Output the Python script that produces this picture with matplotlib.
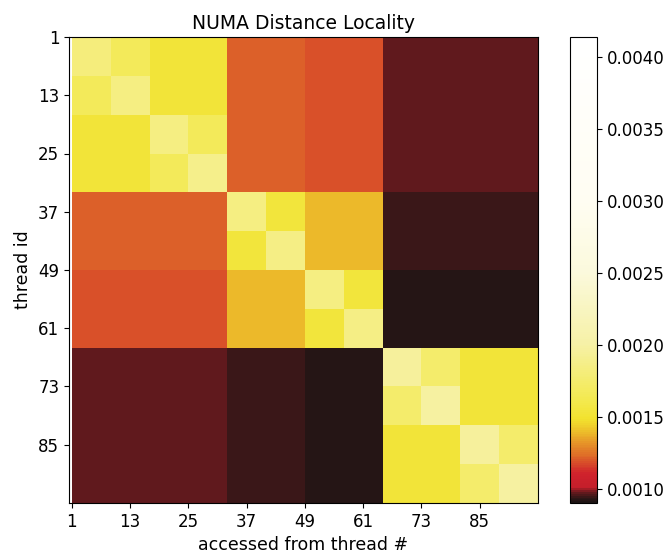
import numpy as np
import matplotlib
matplotlib.use('Agg')
import matplotlib.pyplot as plt
from matplotlib.colors import LinearSegmentedColormap, Normalize

# thread groups: 96 threads, values given per 8x8 block (units of 1e-4)
n_threads = 96
block = 8
block_values = [
    [18.2, 16.6, 15.3, 15.3, 12.1, 12.1, 11.8, 11.8, 9.65, 9.65, 9.65, 9.65],
    [16.6, 18.4, 15.3, 15.3, 12.1, 12.1, 11.8, 11.8, 9.65, 9.65, 9.65, 9.65],
    [15.3, 15.3, 18.4, 16.6, 12.1, 12.1, 11.8, 11.8, 9.65, 9.65, 9.65, 9.65],
    [15.3, 15.3, 16.6, 18.8, 12.1, 12.1, 11.8, 11.8, 9.65, 9.65, 9.65, 9.65],
    [12.1, 12.1, 12.1, 12.1, 18.4, 15.4, 13.9, 13.9, 9.45, 9.45, 9.45, 9.45],
    [12.1, 12.1, 12.1, 12.1, 15.4, 18.6, 13.9, 13.9, 9.45, 9.45, 9.45, 9.45],
    [11.8, 11.8, 11.8, 11.8, 13.9, 13.9, 18.4, 15.4, 9.2, 9.2, 9.2, 9.2],
    [11.8, 11.8, 11.8, 11.8, 13.9, 13.9, 15.4, 18.6, 9.2, 9.2, 9.2, 9.2],
    [9.65, 9.65, 9.65, 9.65, 9.4, 9.4, 9.15, 9.15, 19.6, 17.4, 15.3, 15.3],
    [9.65, 9.65, 9.65, 9.65, 9.4, 9.4, 9.15, 9.15, 17.4, 19.8, 15.3, 15.3],
    [9.65, 9.65, 9.65, 9.65, 9.4, 9.4, 9.15, 9.15, 15.3, 15.3, 19.6, 17.4],
    [9.65, 9.65, 9.65, 9.65, 9.4, 9.4, 9.15, 9.15, 15.3, 15.3, 17.4, 19.8],
]
tick_pos = [0, 12, 24, 36, 48, 60, 72, 84]
tick_labels = ['1', '13', '25', '37', '49', '61', '73', '85']
cbar_ticks = [0.0010, 0.0015, 0.0020, 0.0025, 0.0030, 0.0035, 0.0040]

# expand block values to the full thread x thread matrix
data = np.kron(np.array(block_values) * 1e-4, np.ones((block, block)))

vmin, vmax = 0.0009, 0.00414
nodes = [
    (0.00090, '#1e1414'),
    (0.00093, '#2e1616'),
    (0.00097, '#6a1a1e'),
    (0.00100, '#c41e2b'),
    (0.00110, '#d0222c'),
    (0.00116, '#d6442a'),
    (0.00122, '#de6a28'),
    (0.00130, '#e58e28'),
    (0.00140, '#edc22a'),
    (0.00148, '#f2e22e'),
    (0.00160, '#f3e94c'),
    (0.00200, '#f6f1a6'),
    (0.00250, '#fbf9dc'),
    (0.00300, '#fffdf2'),
    (0.00414, '#ffffff'),
]
cmap = LinearSegmentedColormap.from_list(
    'numa', [((v - vmin) / (vmax - vmin), c) for v, c in nodes])

fig = plt.figure(figsize=(6.69, 5.56), dpi=100)
ax = fig.add_axes([69 / 669, 53 / 556, 469 / 669, 466 / 556])
cax = fig.add_axes([570 / 669, 53 / 556, 27 / 669, 466 / 556])

edges = np.arange(n_threads + 1)
mesh = ax.pcolormesh(edges, edges, data, cmap=cmap,
                     norm=Normalize(vmin=vmin, vmax=vmax))
ax.set_xlim(-0.6, n_threads)
ax.set_ylim(n_threads, 0)

ax.set_xticks(tick_pos)
ax.set_xticklabels(tick_labels)
ax.set_yticks(tick_pos)
ax.set_yticklabels(tick_labels)
ax.tick_params(labelsize=12)

ax.set_title('NUMA Distance Locality', fontsize=13.5)
ax.set_xlabel('accessed from thread #', fontsize=12.5)
ax.set_ylabel('thread id', fontsize=12.5)

cb = fig.colorbar(mesh, cax=cax)
cb.set_ticks(cbar_ticks)
cb.ax.set_yticklabels(['%.4f' % t for t in cbar_ticks])
cb.ax.tick_params(labelsize=12)

fig.savefig('out.png', dpi=100)
